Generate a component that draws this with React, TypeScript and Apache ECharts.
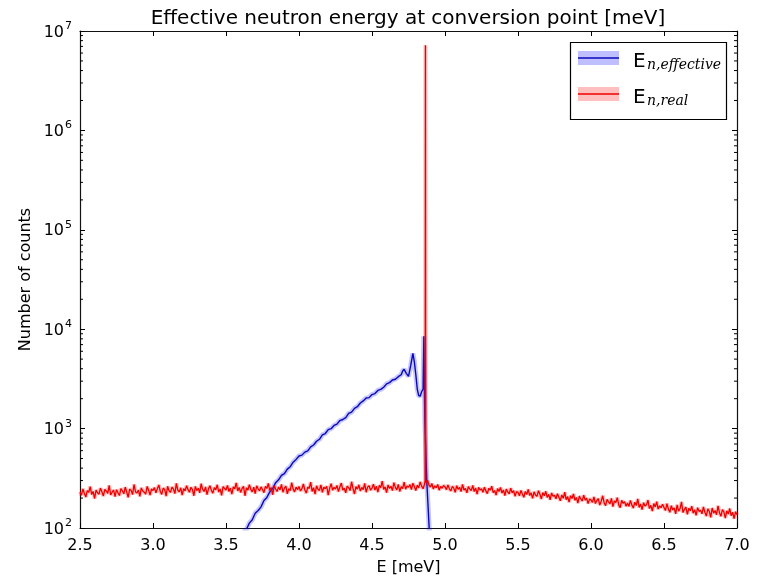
import React, { useEffect, useRef } from "react";
import * as echarts from "echarts";

// Red (real energy) histogram: counts on a regular energy grid (2.50 ... 7.00, step 0.01)
const redStartE = 2.5;
const redStepE = 0.01;
const redCounts = [
  // 2.50 - 2.74
  230, 214, 247, 222, 205, 238, 229, 261, 217, 233, 198, 241, 226, 219, 252, 231, 210, 244, 236, 223, 268, 215, 229, 240, 207,
  // 2.75 - 2.99
  243, 226, 212, 249, 237, 221, 258, 230, 203, 246, 239, 217, 274, 232, 225, 241, 208, 253, 236, 229, 219, 262, 240, 214, 247,
  // 3.00 - 3.24
  238, 255, 226, 249, 271, 233, 218, 252, 244, 209, 263, 237, 229, 258, 246, 222, 281, 240, 231, 254, 214, 249, 236, 266, 243,
  // 3.25 - 3.49
  229, 257, 244, 211, 262, 238, 251, 226, 279, 245, 233, 259, 217, 248, 266, 239, 224, 255, 242, 272, 230, 247, 213, 261, 250,
  // 3.50 - 3.74
  241, 268, 233, 252, 219, 260, 247, 284, 236, 256, 228, 249, 263, 211, 254, 240, 273, 245, 231, 258, 222, 266, 248, 237, 259,
  // 3.75 - 3.99
  244, 227, 262, 250, 281, 238, 255, 216, 266, 247, 233, 259, 242, 274, 229, 252, 264, 221, 249, 238, 286, 246, 231, 258, 243,
  // 4.00 - 4.24
  262, 236, 249, 277, 241, 225, 258, 250, 289, 233, 254, 219, 266, 246, 239, 271, 228, 257, 248, 263, 214, 252, 279, 240, 256,
  // 4.25 - 4.49
  247, 268, 232, 259, 283, 241, 251, 226, 264, 255, 238, 292, 249, 220, 261, 246, 272, 235, 256, 243, 281, 229, 258, 267, 240,
  // 4.50 - 4.74
  252, 276, 241, 263, 230, 268, 255, 296, 244, 259, 227, 271, 250, 263, 238, 286, 256, 242, 274, 233, 261, 249, 290, 246, 265,
  // 4.75 - 4.99
  257, 273, 244, 282, 262, 238, 269, 253, 291, 264, 248, 278, 288, 301, 272, 259, 281, 247, 266, 254, 274, 240, 262, 251, 268,
  // 5.00 - 5.24
  259, 243, 271, 248, 236, 262, 252, 229, 266, 245, 257, 232, 274, 241, 250, 226, 261, 247, 238, 268, 233, 252, 219, 256, 241,
  // 5.25 - 5.49
  248, 229, 257, 236, 222, 251, 240, 263, 227, 238, 214, 249, 233, 256, 225, 241, 212, 246, 230, 221, 252, 226, 237, 209, 232,
  // 5.50 - 5.74
  228, 211, 239, 220, 204, 233, 217, 245, 212, 226, 199, 231, 215, 208, 237, 219, 196, 227, 211, 234, 203, 218, 192, 225, 209,
  // 5.75 - 5.99
  213, 197, 221, 204, 188, 215, 199, 229, 193, 207, 182, 211, 198, 220, 190, 203, 178, 209, 196, 187, 214, 191, 200, 176, 195,
  // 6.00 - 6.24
  192, 181, 205, 176, 189, 197, 170, 186, 211, 179, 168, 194, 183, 175, 199, 164, 187, 180, 202, 171, 160, 190, 177, 184, 166,
  // 6.25 - 6.49
  178, 165, 189, 170, 159, 182, 168, 196, 161, 174, 153, 180, 166, 171, 191, 157, 169, 148, 176, 163, 184, 155, 167, 160, 173,
  // 6.50 - 6.74
  161, 150, 176, 155, 144, 168, 152, 159, 139, 171, 148, 157, 183, 143, 154, 162, 137, 158, 149, 166, 141, 153, 134, 160, 147,
  // 6.75 - 6.99
  151, 139, 163, 144, 132, 156, 147, 128, 159, 141, 150, 136, 167, 142, 131, 153, 145, 126, 149, 138, 157, 133, 144, 124, 146,
  // 7.00
  136,
];
// Narrow peak of the real energy
const redPeakE = [4.864, 4.866, 4.868];
const redPeakCounts = [300, 7200000, 305];

// Blue (effective energy) curve
const blueE = [
  3.6, 3.62, 3.64, 3.66, 3.68, 3.7, 3.72, 3.74, 3.76, 3.78, 3.8, 3.82, 3.84, 3.86, 3.88, 3.9, 3.92, 3.94, 3.96, 3.98,
  4.0, 4.02, 4.04, 4.06, 4.08, 4.1, 4.12, 4.14, 4.16, 4.18, 4.2, 4.22, 4.24, 4.26, 4.28, 4.3, 4.32, 4.34, 4.36, 4.38,
  4.4, 4.42, 4.44, 4.46, 4.48, 4.5, 4.52, 4.54, 4.56, 4.58, 4.6, 4.62, 4.64, 4.66, 4.68, 4.7, 4.71, 4.72, 4.735, 4.75,
  4.765, 4.78, 4.79, 4.8, 4.81, 4.82, 4.83, 4.84, 4.85, 4.855, 4.862, 4.875, 4.895,
];
const blueCounts = [
  78, 90, 97, 112, 121, 141, 150, 163, 189, 203, 231, 249, 286, 305, 338, 352, 391, 414, 459, 490,
  530, 541, 580, 598, 655, 684, 746, 781, 866, 892, 975, 998, 1075, 1110, 1205, 1235, 1290, 1420, 1465, 1600,
  1660, 1810, 1900, 2030, 2050, 2200, 2250, 2420, 2480, 2610, 2820, 2900, 3080, 3140, 3330, 3480, 3800, 3950, 3600, 3350,
  4300, 5700, 4700, 3500, 2500, 2150, 2120, 2350, 2500, 8500, 1200, 300, 80,
];

const xLabels = ["2.5", "3.0", "3.5", "4.0", "4.5", "5.0", "5.5", "6.0", "6.5", "7.0"];
const minorTickValues = [
  200, 300, 400, 500, 600, 700, 800, 900,
  2000, 3000, 4000, 5000, 6000, 7000, 8000, 9000,
  20000, 30000, 40000, 50000, 60000, 70000, 80000, 90000,
  200000, 300000, 400000, 500000, 600000, 700000, 800000, 900000,
  2000000, 3000000, 4000000, 5000000, 6000000, 7000000, 8000000, 9000000,
];

const FONT = "DejaVu Sans";
const BLUE = "#0808b8";
const RED = "#ee0000";

export default function App() {
  const ref = useRef<HTMLDivElement>(null);
  useEffect(() => {
    const chart = echarts.init(ref.current!, null, { renderer: "svg" });
    const redData: number[][] = redCounts
      .map((c, i) => [+(redStartE + i * redStepE).toFixed(3), c])
      .concat(redPeakE.map((e, i) => [e, redPeakCounts[i]]))
      .sort((a, b) => a[0] - b[0]);
    const blueData = blueE.map((e, i) => [e, blueCounts[i]]);

    const axisLine = { show: true, onZero: false, lineStyle: { color: "#111", width: 1.2 } };
    const axisTick = { show: true, inside: true, length: 5, lineStyle: { color: "#000", width: 1 } };
    const xMin = 2.5;
    const xMax = 7.0;

    chart.setOption({
      animation: false,
      grid: { left: 80, right: 23, top: 31, bottom: 49, containLabel: false, outerBoundsMode: "none" },
      xAxis: [
        {
          type: "value",
          min: xMin,
          max: xMax,
          interval: 0.5,
          position: "bottom",
          axisLine,
          axisTick,
          splitLine: { show: false },
          axisLabel: {
            color: "#000",
            fontSize: 16,
            fontFamily: FONT,
            margin: 8,
            formatter: (v: number) => xLabels[Math.round((v - xMin) / 0.5)] ?? v.toFixed(1),
          },
          name: "E [meV]",
          nameLocation: "middle",
          nameGap: 30,
          nameTextStyle: { color: "#000", fontSize: 16, fontFamily: FONT },
        },
        {
          type: "value",
          min: xMin,
          max: xMax,
          interval: 0.5,
          position: "top",
          axisLine,
          axisTick,
          splitLine: { show: false },
          axisLabel: { show: false },
        },
      ],
      yAxis: [
        {
          type: "log",
          logBase: 10,
          min: 100,
          max: 10000000,
          splitNumber: 5,
          position: "left",
          axisLine,
          axisTick,
          splitLine: { show: false },
          axisLabel: {
            margin: 8,
            formatter: (v: number) => `{b|10}{s|${Math.round(Math.log10(v))}}`,
            rich: {
              b: { fontSize: 16, fontFamily: FONT, color: "#000" },
              s: { fontSize: 11, fontFamily: FONT, color: "#000", padding: [0, 0, 11, 1] },
            },
          },
          name: "Number of counts",
          nameLocation: "middle",
          nameGap: 48,
          nameRotate: 90,
          nameTextStyle: { color: "#000", fontSize: 16, fontFamily: FONT },
        },
        {
          type: "log",
          logBase: 10,
          min: 100,
          max: 10000000,
          splitNumber: 5,
          position: "right",
          axisLine,
          axisTick,
          splitLine: { show: false },
          axisLabel: { show: false },
        },
      ],
      series: [
        {
          type: "line",
          data: blueData,
          showSymbol: false,
          symbol: "none",
          clip: true,
          silent: true,
          lineStyle: { color: "rgba(0,0,255,0.22)", width: 5 },
          z: 1,
        },
        {
          type: "line",
          data: blueData,
          showSymbol: false,
          symbol: "none",
          clip: true,
          silent: true,
          lineStyle: { color: BLUE, width: 1.4 },
          z: 2,
        },
        {
          type: "line",
          data: redData,
          showSymbol: false,
          symbol: "none",
          clip: true,
          silent: true,
          lineStyle: { color: "rgba(255,0,0,0.25)", width: 4 },
          z: 3,
        },
        {
          type: "line",
          data: redData,
          showSymbol: false,
          symbol: "none",
          clip: true,
          silent: true,
          lineStyle: { color: RED, width: 1.3 },
          z: 4,
        },
        {
          type: "custom",
          silent: true,
          z: 5,
          data: minorTickValues.map((v) => [xMin, v]),
          renderItem: (_params: any, api: any) => {
            const v = api.value(1);
            const l = api.coord([xMin, v]);
            const r = api.coord([xMax, v]);
            return {
              type: "group",
              children: [
                { type: "line", shape: { x1: l[0], y1: l[1], x2: l[0] + 3, y2: l[1] }, style: { stroke: "#000", lineWidth: 1 } },
                { type: "line", shape: { x1: r[0] - 3, y1: r[1], x2: r[0], y2: r[1] }, style: { stroke: "#000", lineWidth: 1 } },
              ],
            };
          },
        },
      ],
      graphic: [
        {
          type: "text",
          x: 408,
          y: 17,
          style: {
            text: "Effective neutron energy at conversion point [meV]",
            fontSize: 20,
            fontFamily: FONT,
            fill: "#000",
            align: "center",
            verticalAlign: "middle",
          },
        },
        {
          type: "group",
          z: 100,
          children: [
            { type: "rect", shape: { x: 570.5, y: 42.5, width: 156, height: 77 }, style: { fill: "#fff", stroke: "#000", lineWidth: 1.2 } },
            { type: "rect", shape: { x: 578, y: 51, width: 41, height: 14 }, style: { fill: "rgba(0,0,255,0.25)" } },
            { type: "line", shape: { x1: 578, y1: 58, x2: 619, y2: 58 }, style: { stroke: BLUE, lineWidth: 1.4 } },
            { type: "rect", shape: { x: 578, y: 87, width: 41, height: 14 }, style: { fill: "rgba(255,0,0,0.25)" } },
            { type: "line", shape: { x1: 578, y1: 94, x2: 619, y2: 94 }, style: { stroke: RED, lineWidth: 1.4 } },
            { type: "text", x: 633, y: 60, style: { text: "E", fontSize: 20, fontFamily: FONT, fill: "#000", align: "left", verticalAlign: "middle" } },
            { type: "text", x: 647, y: 64, style: { text: "n,effective", fontSize: 14, fontStyle: "italic", fontFamily: "DejaVu Serif", fill: "#000", align: "left", verticalAlign: "middle" } },
            { type: "text", x: 633, y: 96, style: { text: "E", fontSize: 20, fontFamily: FONT, fill: "#000", align: "left", verticalAlign: "middle" } },
            { type: "text", x: 647, y: 100, style: { text: "n,real", fontSize: 14, fontStyle: "italic", fontFamily: "DejaVu Serif", fill: "#000", align: "left", verticalAlign: "middle" } },
          ],
        },
      ],
    });
    return () => chart.dispose();
  }, []);
  return <div ref={ref} style={{ position: "fixed", left: 0, top: 0, width: 760, height: 577 }} />;
}
